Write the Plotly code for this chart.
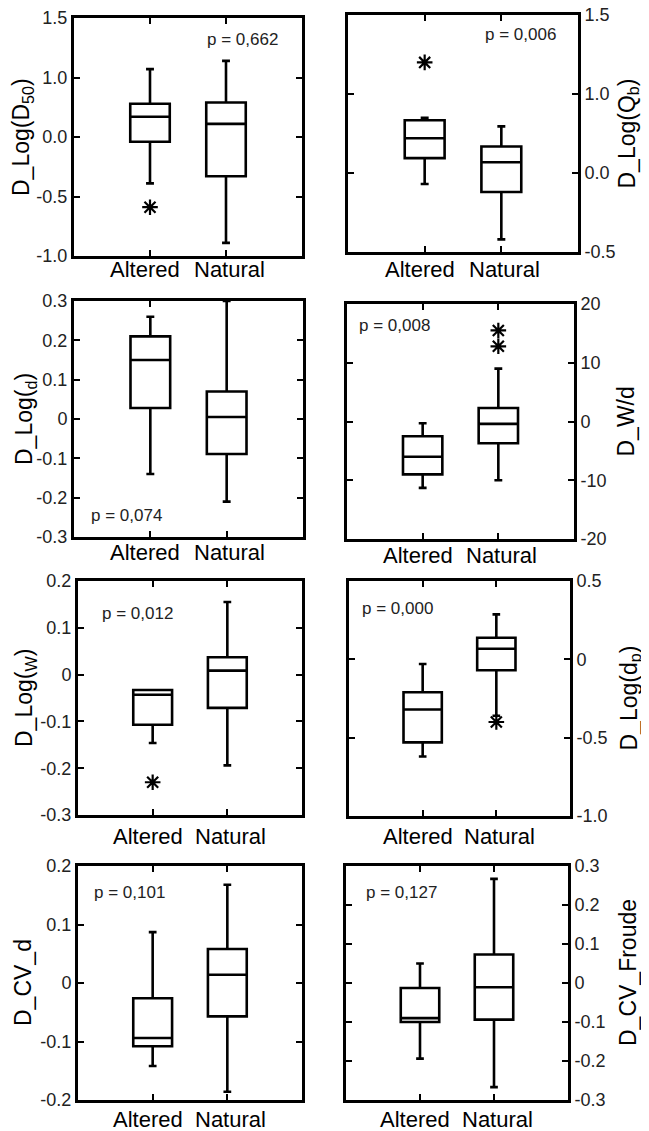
import plotly.graph_objects as go

W, H = 649, 1131
OFF = 8  # the page body margin shifts the figure by this many pixels

groups = ["Altered", "Natural"]

# ---- data (per panel: [Altered, Natural]) ----
d50_lower = [-0.39, -0.89]; d50_q1 = [-0.04, -0.33]; d50_med = [0.17, 0.11]; d50_q3 = [0.28, 0.29]; d50_upper = [0.57, 0.64]
d50_out_alt = [-0.59]; d50_out_nat = []
qb_lower = [-0.07, -0.42]; qb_q1 = [0.094, -0.12]; qb_med = [0.22, 0.068]; qb_q3 = [0.334, 0.168]; qb_upper = [0.35, 0.295]
qb_out_alt = [0.70]; qb_out_nat = []
d_lower = [-0.14, -0.21]; d_q1 = [0.028, -0.089]; d_med = [0.15, 0.005]; d_q3 = [0.21, 0.07]; d_upper = [0.26, 0.30]
d_out_alt = []; d_out_nat = []
wd_lower = [-11.3, -10.0]; wd_q1 = [-9.0, -3.7]; wd_med = [-6.0, -0.4]; wd_q3 = [-2.5, 2.3]; wd_upper = [-0.3, 9.0]
wd_out_alt = []; wd_out_nat = [12.8, 15.5]
w_lower = [-0.146, -0.194]; w_q1 = [-0.107, -0.071]; w_med = [-0.043, 0.0085]; w_q3 = [-0.033, 0.037]; w_upper = [-0.033, 0.155]
w_out_alt = [-0.23]; w_out_nat = []
dp_lower = [-0.62, -0.36]; dp_q1 = [-0.53, -0.07]; dp_med = [-0.32, 0.068]; dp_q3 = [-0.21, 0.138]; dp_upper = [-0.03, 0.287]
dp_out_alt = []; dp_out_nat = [-0.40]
cvd_lower = [-0.142, -0.186]; cvd_q1 = [-0.108, -0.057]; cvd_med = [-0.094, 0.014]; cvd_q3 = [-0.026, 0.058]; cvd_upper = [0.087, 0.168]
cvd_out_alt = []; cvd_out_nat = []
fr_lower = [-0.194, -0.267]; fr_q1 = [-0.10, -0.094]; fr_med = [-0.09, -0.011]; fr_q3 = [-0.013, 0.073]; fr_upper = [0.05, 0.267]
fr_out_alt = []; fr_out_nat = []

p_values = ["p = 0,662", "p = 0,006", "p = 0,074", "p = 0,008", "p = 0,012", "p = 0,000", "p = 0,101", "p = 0,127"]
titles = ["D_Log(D<sub>50</sub>)", "D_Log(Q<sub>b</sub>)", "D_Log(<sub>d</sub>)", "D_W/d",
          "D_Log(<sub>W</sub>)", "D_Log(d<sub>p</sub>)", "D_CV_d", "D_CV_Froude"]

tick_vals = [[-1, -0.5, 0, 0.5, 1], [-0.5, 0, 0.5, 1.0], [-0.3, -0.2, -0.1, 0, 0.1, 0.2, 0.3], [-20, -10, 0, 10, 20],
             [-0.3, -0.2, -0.1, 0, 0.1, 0.2], [-1.0, -0.5, 0, 0.5], [-0.2, -0.1, 0, 0.1, 0.2],
             [-0.3, -0.2, -0.1, 0, 0.1, 0.2, 0.3]]
tick_text = [["-1.0", "-0.5", "0.0", "1.0", "1.5"], ["-0.5", "0.0", "1.0", "1.5"],
             ["-0.3", "-0.2", "-0.1", "0", "0.1", "0.2", "0.3"], ["-20", "-10", "0", "10", "20"],
             ["-0.3", "-0.2", "-0.1", "0", "0.1", "0.2"], ["-1.0", "-0.5", "0", "0.5"],
             ["-0.2", "-0.1", "0", "0.1", "0.2"], ["-0.3", "-0.2", "-0.1", "0", "0.1", "0.2", "0.3"]]
y_ranges = [[-1, 1], [-0.5, 1.0], [-0.3, 0.3], [-20, 20], [-0.3, 0.2], [-1.0, 0.5], [-0.2, 0.2], [-0.3, 0.3]]

panels = [
    (d50_lower, d50_q1, d50_med, d50_q3, d50_upper, d50_out_alt, d50_out_nat),
    (qb_lower, qb_q1, qb_med, qb_q3, qb_upper, qb_out_alt, qb_out_nat),
    (d_lower, d_q1, d_med, d_q3, d_upper, d_out_alt, d_out_nat),
    (wd_lower, wd_q1, wd_med, wd_q3, wd_upper, wd_out_alt, wd_out_nat),
    (w_lower, w_q1, w_med, w_q3, w_upper, w_out_alt, w_out_nat),
    (dp_lower, dp_q1, dp_med, dp_q3, dp_upper, dp_out_alt, dp_out_nat),
    (cvd_lower, cvd_q1, cvd_med, cvd_q3, cvd_upper, cvd_out_alt, cvd_out_nat),
    (fr_lower, fr_q1, fr_med, fr_q3, fr_upper, fr_out_alt, fr_out_nat),
]

# ---- layout geometry (page pixels) ----
frames = [(74, 302, 18, 256), (348, 578, 15, 252), (74, 303, 301, 537), (347, 574, 304, 539),
          (78, 302, 581, 815), (349, 570, 581, 816), (78, 302, 866, 1100), (346, 568, 866, 1100)]
p_pos = [(242, 39), (520, 35), (126, 515), (394, 325), (137, 613), (397, 608), (129, 893), (401, 893)]
title_x = [23, 628, 25, 625, 25, 630, 23, 628]
title_dy = [0, 0, 0, 0, 0, 0, 0, -10]
label_dy = [14, 18, 16, 16, 21, 20, 19, 19]


def px(x):
    return (x - OFF) / W


def py(y):
    return 1 - (y - OFF) / H


FONT = "Liberation Sans, Arial, Helvetica, sans-serif"
fig = go.Figure()
annotations = []

for i, (lo, q1, med, q3, up, out_a, out_n) in enumerate(panels):
    k = "" if i == 0 else str(i + 1)
    xa, ya = "x" + k, "y" + k
    for j in range(2):
        fig.add_trace(go.Box(
            x=[j + 1], q1=[q1[j]], median=[med[j]], q3=[q3[j]],
            lowerfence=[lo[j]], upperfence=[up[j]],
            width=0.52, whiskerwidth=0.2, boxpoints=False,
            line=dict(color="black", width=2.6), fillcolor="rgba(255,255,255,0)",
            xaxis=xa, yaxis=ya, showlegend=False, name=groups[j]))
    for j, outs in enumerate([out_a, out_n]):
        if outs:
            fig.add_trace(go.Scatter(
                x=[j + 1] * len(outs), y=outs, mode="markers",
                marker=dict(symbol="asterisk-open", size=13, color="black",
                            line=dict(color="black", width=2.2)),
                xaxis=xa, yaxis=ya, showlegend=False))
    x0, x1, y0, y1 = frames[i]
    right = (i % 2 == 1)
    common = dict(showline=True, linewidth=3, linecolor="black", mirror="allticks",
                  ticks="inside", ticklen=6, tickwidth=2, tickcolor="black",
                  showgrid=False, zeroline=False, fixedrange=True, automargin=False)
    fig.layout["xaxis" + k] = dict(
        domain=[px(x0), px(x1)], anchor=ya, range=[0, 3], tickmode="array",
        tickvals=[1, 2], showticklabels=False, **common)
    fig.layout["yaxis" + k] = dict(
        domain=[py(y1), py(y0)], anchor=xa, range=y_ranges[i], tickmode="array",
        tickvals=tick_vals[i], ticktext=tick_text[i], side="right" if right else "left",
        ticklabeloverflow="allow",
        tickfont=dict(family=FONT, size=18, color="#222"), **common)
    # category labels under each panel
    unit = (x1 - x0) / 3.0
    for j, g in enumerate(groups):
        cx = x0 + (j + 1) * unit + (-5 if j == 0 else 3)
        annotations.append(dict(x=px(cx), y=py(y1 + label_dy[i]), xref="paper", yref="paper",
                                text=g, showarrow=False, xanchor="center", yanchor="middle",
                                font=dict(family=FONT, size=22, color="black")))
    tx, ty = p_pos[i]
    annotations.append(dict(x=px(tx), y=py(ty), xref="paper", yref="paper", text=p_values[i],
                            showarrow=False, xanchor="center", yanchor="middle",
                            font=dict(family=FONT, size=17, color="#222")))
    annotations.append(dict(x=px(title_x[i]), y=py((y0 + y1) / 2 + title_dy[i]), xref="paper", yref="paper",
                            text=titles[i], textangle=-90, showarrow=False,
                            xanchor="center", yanchor="middle",
                            font=dict(family=FONT, size=23, color="black")))

fig.update_layout(width=W, height=H, margin=dict(l=0, r=0, t=0, b=0),
                  paper_bgcolor="white", plot_bgcolor="white", annotations=annotations)
fig.write_html("out.html")
